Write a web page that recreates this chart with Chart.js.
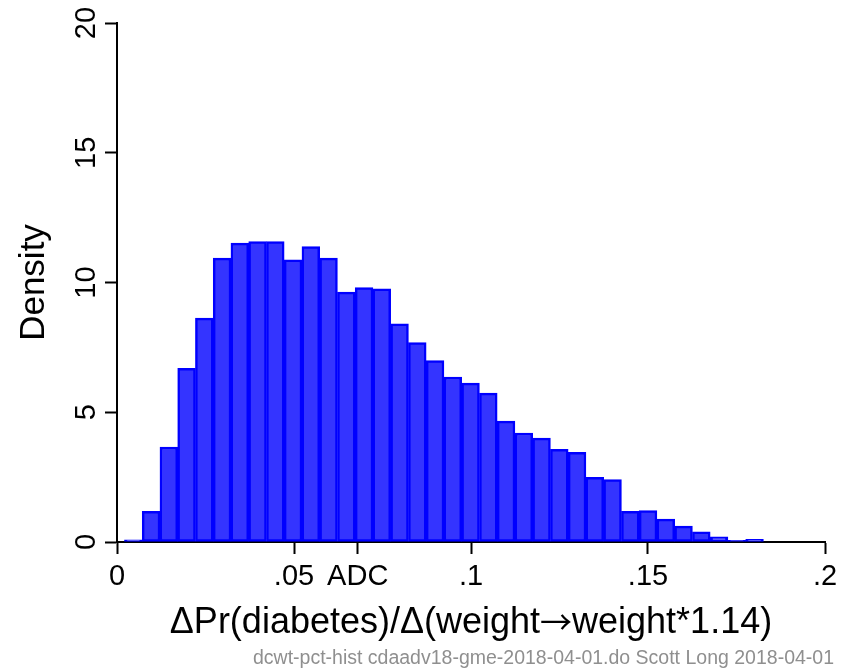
<!DOCTYPE html>
<html>
<head>
<meta charset="utf-8">
<script src="https://cdn.jsdelivr.net/npm/chart.js@4/dist/chart.umd.min.js"></script>
<style>
  html, body { margin: 0; padding: 0; background: #ffffff; }
  canvas { display: block; }
</style>
</head>
<body>
<canvas id="chart" width="852" height="670"></canvas>
<script>
// Histogram bin centres (bin width about .005)
const binCenters = [
  0.00461, 0.00962, 0.01464, 0.01965, 0.02466, 0.02968, 0.03469, 0.03971, 0.04472,
  0.04973, 0.05475, 0.05976, 0.06478, 0.06979, 0.07480, 0.07982, 0.08483, 0.08985,
  0.09486, 0.09987, 0.10489, 0.10990, 0.11492, 0.11993, 0.12494, 0.12996, 0.13497,
  0.13999, 0.14500, 0.15001, 0.15503, 0.16004, 0.16506, 0.17007, 0.17508, 0.18010
];

// Density of each bin
const densities = [
  0.08, 1.18, 3.66, 6.69, 8.63, 10.94, 11.52, 11.58, 11.58,
  10.87, 11.38, 10.94, 9.63, 9.80, 9.76, 8.41, 7.68, 6.99,
  6.36, 6.12, 5.74, 4.66, 4.20, 4.00, 3.57, 3.46, 2.49,
  2.41, 1.18, 1.21, 0.88, 0.61, 0.39, 0.20, 0.06, 0.10
];

// Axis ticks (ADC marks the average discrete change)
const xTickValues = [0, 0.05, 0.068, 0.1, 0.15, 0.2];
const xTickLabels = ['0', '.05', 'ADC', '.1', '.15', '.2'];
const yTickValues = [0, 5, 10, 15, 20];
const yTickLabels = ['0', '5', '10', '15', '20'];

// x-axis title, split so the arrow can use a font with a long thin glyph
const xTitleParts = ['ΔPr(diabetes)/Δ(weight', '→', 'weight*1.14)'];
const yTitle = 'Density';
const footnote = 'dcwt-pct-hist cdaadv18-gme-2018-04-01.do Scott Long 2018-04-01';

const FONT = '"Liberation Sans", Arial, Helvetica, sans-serif';
const ARROW_FONT = '"Noto Sans CJK SC", "DejaVu Sans", sans-serif';

// Vertical tick labels on the density axis
const yTickLabelPlugin = {
  id: 'yTickLabels',
  afterDraw(chart) {
    const { ctx } = chart;
    const yScale = chart.scales.y;
    ctx.save();
    ctx.font = '29px ' + FONT;
    ctx.fillStyle = '#000000';
    ctx.textAlign = 'center';
    ctx.textBaseline = 'alphabetic';
    yTickValues.forEach((v, i) => {
      const py = yScale.getPixelForValue(v);
      ctx.save();
      ctx.translate(95, py);
      ctx.rotate(-Math.PI / 2);
      ctx.fillText(yTickLabels[i], 0, 0);
      ctx.restore();
    });
    ctx.restore();
  }
};

// x-axis title centred under the plot area
const xTitlePlugin = {
  id: 'xTitle',
  afterDraw(chart) {
    const { ctx, chartArea } = chart;
    const fonts = ['36px ' + FONT, '32px ' + ARROW_FONT, '36px ' + FONT];
    ctx.save();
    ctx.fillStyle = '#000000';
    ctx.textBaseline = 'alphabetic';
    ctx.textAlign = 'left';
    const widths = xTitleParts.map((t, i) => { ctx.font = fonts[i]; return ctx.measureText(t).width; });
    const total = widths.reduce((a, b) => a + b, 0);
    let x = (chartArea.left + chartArea.right) / 2 - total / 2;
    const baseline = 633;
    xTitleParts.forEach((t, i) => {
      ctx.font = fonts[i];
      ctx.fillText(t, x, i === 1 ? baseline + 1 : baseline);
      x += widths[i];
    });
    ctx.restore();
  }
};

// Small grey note in the lower right corner
const footnotePlugin = {
  id: 'footnote',
  afterDraw(chart) {
    const { ctx } = chart;
    ctx.save();
    ctx.font = '19.5px ' + FONT;
    ctx.fillStyle = '#8f8f8f';
    ctx.textAlign = 'right';
    ctx.textBaseline = 'alphabetic';
    ctx.fillText(footnote, 834, 664);
    ctx.restore();
  }
};

const points = binCenters.map((x, i) => ({ x: x, y: densities[i] }));

new Chart(document.getElementById('chart'), {
  type: 'bar',
  data: {
    datasets: [{
      data: points,
      backgroundColor: '#3434ff',
      borderColor: '#0000ff',
      borderWidth: 2.5,
      borderSkipped: false,
      barPercentage: 1.0,
      categoryPercentage: 1.0
    }]
  },
  options: {
    responsive: false,
    animation: false,
    devicePixelRatio: 1,
    layout: { padding: { top: 23, right: 27, bottom: 0, left: 0 } },
    plugins: {
      legend: { display: false },
      tooltip: { enabled: false }
    },
    scales: {
      x: {
        type: 'linear',
        offset: false,
        min: 0,
        max: 0.2,
        afterBuildTicks: (scale) => {
          scale.ticks = xTickValues.map(v => ({ value: v }));
        },
        afterFit: (scale) => { scale.height = 128; },
        ticks: {
          autoSkip: false,
          maxRotation: 0,
          minRotation: 0,
          padding: 6,
          color: '#000000',
          font: { family: FONT, size: 29 },
          callback: (value, index) => xTickLabels[index]
        },
        grid: {
          offset: false,
          drawOnChartArea: false,
          drawTicks: true,
          tickLength: 12,
          tickWidth: 2,
          color: '#000000'
        },
        border: { display: true, color: '#000000', width: 2 },
        title: { display: false }
      },
      y: {
        type: 'linear',
        min: 0,
        max: 20,
        afterBuildTicks: (scale) => {
          scale.ticks = yTickValues.map(v => ({ value: v }));
        },
        afterFit: (scale) => { scale.width = 117; },
        ticks: { display: false },
        grid: {
          drawOnChartArea: false,
          drawTicks: true,
          tickLength: 12,
          tickWidth: 2,
          color: '#000000'
        },
        border: { display: true, color: '#000000', width: 2 },
        title: {
          display: true,
          text: yTitle,
          color: '#000000',
          font: { family: FONT, size: 35 },
          padding: { top: 13, bottom: 0 }
        }
      }
    }
  },
  plugins: [yTickLabelPlugin, xTitlePlugin, footnotePlugin]
});
</script>
</body>
</html>
